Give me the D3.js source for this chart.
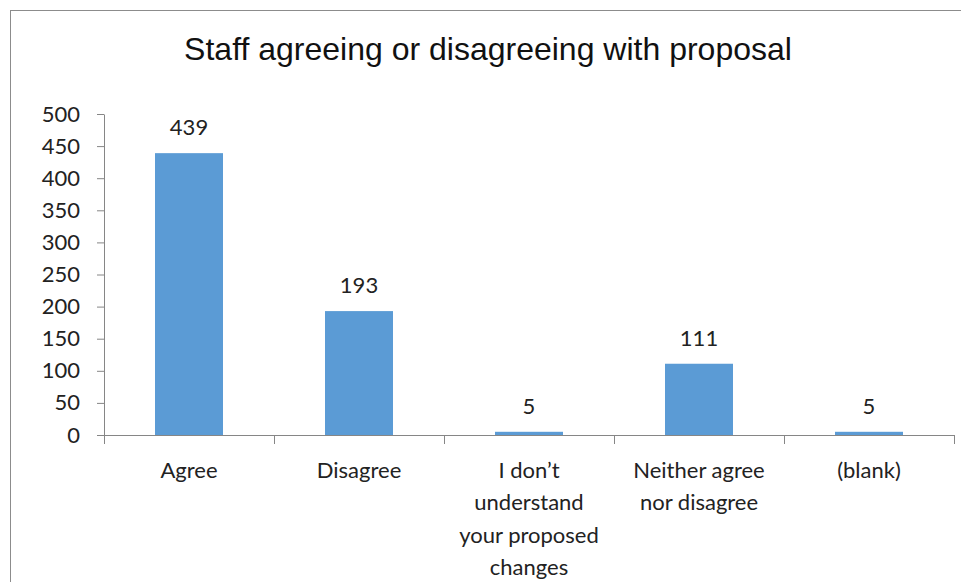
<!DOCTYPE html>
<html>
<head>
<meta charset="utf-8">
<script src="https://cdn.jsdelivr.net/npm/d3@7"></script>
<style>
  html, body { margin: 0; padding: 0; background: #fff; }
  svg { display: block; }
</style>
</head>
<body>
<svg id="chart" width="961" height="582"></svg>
<script>
// Survey responses
const categories = ["Agree", "Disagree", "I don\u2019t understand your proposed changes", "Neither agree nor disagree", "(blank)"];
const categoryLines = [["Agree"], ["Disagree"], ["I don\u2019t", "understand", "your proposed", "changes"], ["Neither agree", "nor disagree"], ["(blank)"]];
const counts = [439, 193, 5, 111, 5];
const yTicks = [0, 50, 100, 150, 200, 250, 300, 350, 400, 450, 500];
const title = "Staff agreeing or disagreeing with proposal";

const svg = d3.select("#chart");
const labelFont = "Lato, 'Open Sans', sans-serif";
const textColor = "#222";
const axisColor = "#868686";

// chart frame
svg.append("rect")
  .attr("x", 10.5).attr("y", 10.5)
  .attr("width", 960).attr("height", 600)
  .attr("fill", "#fff").attr("stroke", "#8c8c8c").attr("stroke-width", 1);

const plot = { left: 104, right: 954, top: 114, bottom: 435 };

const x = d3.scaleBand()
  .domain(categories)
  .range([plot.left, plot.right])
  .paddingInner(0.6)
  .paddingOuter(0.3);

const y = d3.scaleLinear()
  .domain([0, 500])
  .range([plot.bottom, plot.top]);

// title
svg.append("text")
  .attr("x", 488).attr("y", 60)
  .attr("text-anchor", "middle")
  .attr("font-family", "'Liberation Sans', Arial, sans-serif")
  .attr("font-size", 32)
  .attr("fill", "#111")
  .text(title);

// y axis
const yAxis = svg.append("g")
  .attr("transform", `translate(${plot.left},0)`)
  .call(d3.axisLeft(y).tickValues(yTicks).tickSize(7).tickPadding(17).tickSizeOuter(0));
yAxis.select(".domain").attr("stroke", axisColor);
yAxis.selectAll(".tick line").attr("stroke", axisColor);
yAxis.selectAll(".tick text")
  .attr("font-family", labelFont).attr("font-size", 22).attr("fill", textColor);

// bars
svg.append("g").selectAll("rect")
  .data(categories)
  .join("rect")
  .attr("x", d => x(d))
  .attr("width", x.bandwidth())
  .attr("y", (d, i) => y(counts[i]))
  .attr("height", (d, i) => y(0) - y(counts[i]))
  .attr("fill", "#5B9BD5");

// x axis with ticks at category boundaries
const xg = svg.append("g");
const step = x.step();
const boundaries = d3.range(categories.length + 1).map(i => plot.left + i * step);
xg.append("line")
  .attr("x1", plot.left).attr("x2", plot.right)
  .attr("y1", plot.bottom + 0.5).attr("y2", plot.bottom + 0.5)
  .attr("stroke", axisColor);
xg.selectAll("line.tick")
  .data(boundaries)
  .join("line")
  .attr("class", "tick")
  .attr("x1", d => Math.round(d) + 0.5).attr("x2", d => Math.round(d) + 0.5)
  .attr("y1", plot.bottom).attr("y2", plot.bottom + 9)
  .attr("stroke", axisColor);

// category labels
xg.selectAll("text")
  .data(categories)
  .join("text")
  .attr("text-anchor", "middle")
  .attr("font-family", labelFont).attr("font-size", 22).attr("fill", textColor)
  .attr("transform", d => `translate(${x(d) + x.bandwidth() / 2},478)`)
  .each(function (d, i) {
    d3.select(this).selectAll("tspan")
      .data(categoryLines[i])
      .join("tspan")
      .attr("x", 0)
      .attr("y", (t, j) => j * 32.3)
      .text(t => t);
  });

// value labels
svg.append("g").selectAll("text")
  .data(categories)
  .join("text")
  .attr("x", d => x(d) + x.bandwidth() / 2)
  .attr("y", (d, i) => y(counts[i]) - 18)
  .attr("text-anchor", "middle")
  .attr("font-family", labelFont).attr("font-size", 22).attr("fill", textColor)
  .text((d, i) => counts[i]);
</script>
</body>
</html>
